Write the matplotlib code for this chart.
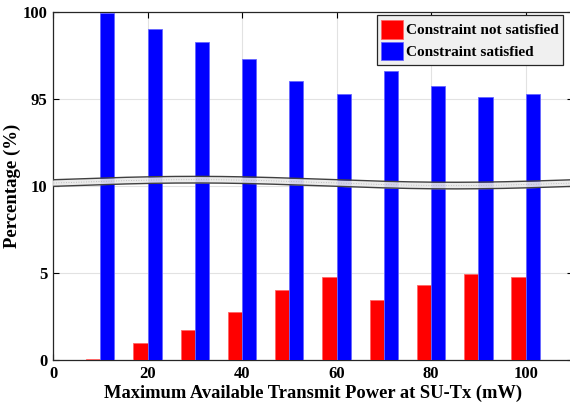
import numpy as np
import matplotlib.pyplot as plt

# data
power = [10, 20, 30, 40, 50, 60, 70, 80, 90, 100]
not_satisfied = [0.06, 1.0, 1.74, 2.78, 4.02, 4.76, 3.47, 4.29, 4.96, 4.76]
satisfied = [99.95, 99.05, 98.30, 97.29, 96.04, 95.30, 96.60, 95.78, 95.12, 95.31]

ytick_pos = [0, 5, 10, 15, 20]
ytick_lab = ['0', '5', '10', '95', '100']
xticks = [0, 20, 40, 60, 80, 100]

# broken axis: 0..10 shown as is, 90..100 shifted down by 80
def fold(v):
    v = np.asarray(v, dtype=float)
    return np.where(v > 10, v - 80, v)

plt.rcParams['font.family'] = ['Liberation Serif', 'DejaVu Serif']
plt.rcParams['font.weight'] = 'bold'

fig = plt.figure(figsize=(5.7, 4.05), dpi=100)
ax = fig.add_axes([0.093, 0.111, 0.912, 0.859])

x = np.array(power)
w = 3
ax.bar(x - w/2, not_satisfied, width=w, color='#ff0000', edgecolor='#ff6666',
       linewidth=0.6, label='Constraint not satisfied', zorder=3)
ax.bar(x + w/2, fold(satisfied), width=w, color='#0000ff', edgecolor='#6666ff',
       linewidth=0.6, label='Constraint satisfied', zorder=3)

# wavy break band
xx = np.linspace(-2, 112, 400)
mid = 10.2 + 0.17*np.sin(2*np.pi*(xx - 2.5)/110)
ax.fill_between(xx, mid - 0.19, mid + 0.19, color='#e9e9e9', alpha=0.9, zorder=4, linewidth=0)
ax.plot(xx, mid + 0.19, color='#404040', lw=1.0, zorder=5)
ax.plot(xx, mid - 0.19, color='#404040', lw=1.0, zorder=5)
ax.plot(xx, mid, color='#b0b0b0', lw=0.6, ls=(0, (1, 2)), zorder=5)

ax.set_xlim(0, 110)
ax.set_ylim(0, 20)
ax.set_xticks(xticks)
ax.set_yticks(ytick_pos)
ax.set_yticklabels(ytick_lab)
ax.tick_params(direction='in', labelsize=12, top=True, right=True, length=4, pad=4)
ax.grid(True, color='#e2e2e2', lw=0.8, zorder=0)
ax.set_axisbelow(True)
for s in ax.spines.values():
    s.set_color('#262626')
    s.set_linewidth(0.9)

ax.set_xlabel('Maximum Available Transmit Power at SU-Tx (mW)', fontsize=13.3, fontweight='bold', labelpad=2)
ax.set_ylabel('Percentage (%)', fontsize=13.5, fontweight='bold', labelpad=1)

leg = ax.legend(loc='upper right', bbox_to_anchor=(0.981, 0.991), borderaxespad=0,
                fontsize=11, fancybox=False, framealpha=1, edgecolor='#262626',
                facecolor='#f0f0f0', handlelength=1.4, handleheight=1.5,
                handletextpad=0.2, borderpad=0.3, labelspacing=0.2)
leg.get_frame().set_linewidth(0.9)

fig.savefig('out.png', dpi=100)
